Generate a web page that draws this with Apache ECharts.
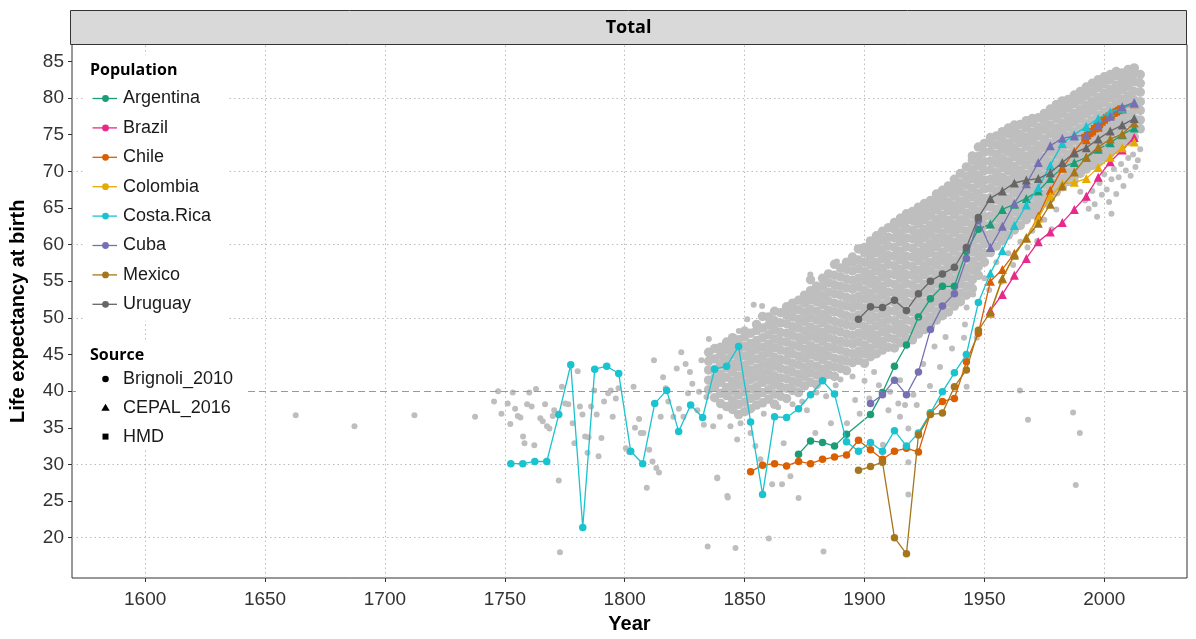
<!DOCTYPE html>
<html><head><meta charset="utf-8">
<script src="https://cdn.jsdelivr.net/npm/echarts@6/dist/echarts.min.js"></script>
<style>html,body{margin:0;padding:0;background:#fff}#c{width:1196px;height:639px}</style>
</head><body><div id="c"></div><script>
// ---------- DATA ----------
const countries = ['Argentina','Brazil','Chile','Colombia','Costa.Rica','Cuba','Mexico','Uruguay'];
const countryColors = ['#1B9E77','#E7298A','#D95F02','#E6AB02','#19C3CF','#7570B3','#A6761D','#666666'];
const sources = ['Brignoli_2010','CEPAL_2016','HMD'];
const xTicks = [1600,1650,1700,1750,1800,1850,1900,1950,2000];
const yTicks = [20,25,30,35,40,45,50,55,60,65,70,75,80,85];
const yGrid = [20,30,40,50,60,70,80];
const refLine = 40;

const cepalYears = [1952.5,1957.5,1962.5,1967.5,1972.5,1977.5,1982.5,1987.5,1992.5,1997.5,2002.5,2007.5,2012.5];

const argBrigYears = [1872.5,1877.5,1882.5,1887.5,1892.5,1902.5,1907.5,1912.5,1917.5,1922.5,1927.5,1932.5,1937.5,1942.5,1947.5];
const argBrig = [31.4,33.2,33.0,32.5,34.1,36.8,39.8,43.4,46.3,50.1,52.6,54.3,54.3,59.1,62.1];
const argCepal = [62.8,64.8,65.5,66.3,67.3,69.0,70.5,71.2,71.9,73.0,73.9,75.0,75.9];

const braCepal = [51.0,53.2,55.8,58.1,60.4,61.7,63.0,64.8,66.6,69.2,71.3,72.9,74.6];

const chiBrigYears = [1852.5,1857.5,1862.5,1867.5,1872.5,1877.5,1882.5,1887.5,1892.5,1897.5,1902.5,1907.5,1912.5,1917.5,1922.5,1927.5,1932.5,1937.5,1942.5,1947.5];
const chiBrig = [29.0,29.9,30.1,29.8,30.4,30.1,30.7,31.0,31.3,33.3,32.0,30.7,31.8,32.2,31.7,37.0,38.6,39.0,44.0,47.9];
const chiCepal = [55.0,56.6,58.8,60.9,63.9,67.4,70.4,72.7,74.3,76.0,77.6,78.5,79.2];
const chiHmdYears = [1992,1993,1994,1995,1996,1997,1998,1999,2000,2001,2002,2003,2004,2005,2006,2007];
const chiHmd = [74.6,74.9,75.2,75.4,75.8,76.1,76.4,76.7,77.0,77.3,77.5,77.7,77.9,78.1,78.3,78.5];

const colCepal = [50.6,55.3,58.5,61.0,63.6,66.6,68.3,68.5,69.0,70.5,71.9,73.2,74.0];

const crcBrigYears = [1752.5,1757.5,1762.5,1767.5,1772.5,1777.5,1782.5,1787.5,1792.5,1797.5,1802.5,1807.5,1812.5,1817.5,1822.5,1827.5,1832.5,1837.5,1842.5,1847.5,1852.5,1857.5,1862.5,1867.5,1872.5,1877.5,1882.5,1887.5,1892.5,1897.5,1902.5,1907.5,1912.5,1917.5,1922.5,1927.5,1932.5,1937.5,1942.5,1947.5];
const crcBrig = [30.1,30.1,30.4,30.4,36.8,43.6,21.4,43.0,43.4,42.4,31.8,30.1,38.3,40.1,34.5,38.1,36.4,43.0,43.4,46.1,35.8,25.9,36.5,36.4,37.6,39.5,41.4,39.6,33.1,31.8,33.0,31.8,34.6,32.5,34.3,37.0,39.9,42.5,45.0,52.1];
const crcCepal = [56.1,59.2,62.6,65.4,67.8,70.8,73.8,75.0,76.1,77.2,78.1,78.6,79.3];

const cubBrigYears = [1902.5,1907.5,1912.5,1917.5,1922.5,1927.5,1932.5,1937.5,1942.5,1947.5];
const cubBrig = [38.3,39.5,41.5,39.5,42.6,48.4,51.6,53.3,58.1,63.3];
const cubCepal = [59.6,62.5,65.6,68.3,71.2,73.5,74.5,74.8,74.9,76.3,77.5,78.8,79.4];

const mexBrigYears = [1897.5,1902.5,1907.5,1912.5,1917.5,1922.5,1927.5,1932.5,1937.5,1942.5,1947.5];
const mexBrig = [29.2,29.7,30.3,20.0,17.8,34.0,36.8,37.0,40.6,42.9,48.3];
const mexCepal = [50.8,55.4,58.6,60.9,62.9,65.5,68.0,69.9,71.9,73.3,74.4,75.1,76.6];

const uruBrigYears = [1897.5,1902.5,1907.5,1912.5,1917.5,1922.5,1927.5,1932.5,1937.5,1942.5,1947.5];
const uruBrig = [49.8,51.5,51.4,52.4,51.0,53.3,55.0,56.0,56.9,59.6,63.7];
const uruCepal = [66.3,67.3,68.4,68.8,69.0,69.8,71.2,72.5,73.2,74.4,75.5,76.3,77.2];

// background cloud (all other populations) - sparse points
const grayPoints = [
[1662.8,36.7],[1687.3,35.2],[1712.3,36.7],[1737.6,36.5],[1745.5,38.6],[1747.2,40.0],[1748.6,36.9],
[1751.2,38.3],[1752.3,35.5],[1753.3,39.8],[1754.3,37.6],[1755.4,36.6],[1756.5,36.4],[1757.6,33.8],[1758.2,32.9],[1759.3,38.2],[1760.2,39.8],[1761.2,37.9],[1762.3,32.6],[1763.0,40.3],[1764.8,36.3],[1765.8,35.9],[1766.8,38.2],[1767.6,35.2],[1768.6,34.9],[1770.0,36.6],[1770.6,37.4],[1772.5,27.8],[1773.8,40.6],[1775.2,38.3],[1776.5,38.2],[1778.3,35.6],[1779.0,32.9],[1780.4,42.7],[1781.3,37.9],[1782.4,36.8],[1783.5,33.8],[1784.5,31.6],[1784.9,33.7],[1786.0,37.9],[1787.3,40.1],[1788.3,36.8],[1789.1,31.1],[1790.3,33.6],[1791.4,38.6],[1793.1,39.7],[1794.2,40.1],[1795.0,36.5],[1796.3,39.0],[1797.4,40.4],[1800.5,32.2],[1801.8,31.7],[1803.7,40.6],[1804.3,35.0],[1806.0,36.2],[1806.7,34.3],[1807.8,34.3],[1809.2,26.8],[1810.2,32.0],[1811.6,30.4],[1812.2,44.2],[1813.2,29.5],[1814.3,28.9],[1815.0,36.5],[1816.0,41.9],[1817.1,40.4],[1818.2,38.6],[1820.3,36.5],[1821.7,43.1],[1822.6,37.6],[1823.6,45.3],[1824.5,36.5],[1825.4,43.7],[1826.4,39.7],[1827.2,42.6],[1828.2,41.0],[1830.3,37.4],[1831.0,39.9],[1832.0,44.2],[1833.0,35.4],[1834.1,39.2],[1835.1,47.1],[1835.8,45.3],[1836.9,35.2],[1838.6,28.2],[1839.7,36.5],[1840.7,44.0],[1843.0,25.5],[1844.1,35.2],[1844.8,37.9],[1846.9,33.4],[1847.6,48.2],[1848.3,35.6],
[1773.0,18.0],[1834.6,18.8],[1846.2,18.6],[1842.8,25.7],[1838.6,28.1],
[1852.5,34.3],[1854.5,32.5],[1856.6,30.7],[1860.1,19.9],[1861.5,27.3],[1865.6,27.3],[1866.3,32.9],[1869.1,28.4],[1872.5,25.4],[1876,37.4],[1879.5,34.3],[1882.9,18.1],[1886,35.6],[1892.7,35.6],[1896.1,38.8],
[1858,36.9],[1864,37.8],[1870,38.2],[1874,38.6],[1880,39.8],[1884,39.3],[1888,40.8],[1890,41.6],[1895,42.0],[1898,36.9],[1900,41.4],[1902,39.0],[1904,42.6],[1906,40.8],
[1851.1,49.8],[1853.8,51.8],[1857.3,51.6],[1858.7,50.3],[1870.5,50.9],[1877.4,55.9],[1888.5,57.7],[1896.8,59.5],
[1907.7,32.7],[1910,37.4],[1910.7,39.9],[1914.1,38.3],[1914.8,36.5],[1916.9,38.1],[1918.3,34.9],[1918.3,30.3],[1918.3,25.9],[1920.4,39.5],[1921.8,38.1],[1927.3,40.7],[1931.5,43.3],[1924.5,43.7],[1914.8,41.5],[1942.6,40.6],[1941.5,47.3],[1946.8,47.3],[1942.6,51.4],[1941.9,49.1],[1945.3,53.2],[1936.5,45.8],[1933.8,47.4],[1929.2,46.1],
[1950,55.4],[1952,53.8],[1955,57.6],[1957,54.9],[1960,58.8],[1962,57.2],[1965,60.4],[1968,59.6],[1970,61.9],[1972,60.5],[1975,63.4],[1978,62.1],[1980,64.8],
[1964.8,40.1],[1968.2,36.1],[1987.0,37.1],[1989.8,34.3],[1988.1,27.2],
[1990,67.2],[1988,68.6],[1992,66.0],[1993.5,64.9],[1995,67.3],[1996,65.5],[1997,63.8],[1998,68.4],[1999,66.8],[2000,69.6],[2001,67.5],[2002,65.8],[2003,68.9],[2003,64.2],[2004,70.3],[2005,66.9],[2006,69.2],[2007,71.0],[2008,68.0],[2009,70.1],[2010,71.8],[2011,69.4],[2012,72.3],[2013,70.6],[2014,71.5],[2015,73.0]
];
// background cloud - dense band, values per year
const cloudYears = [1835,1837.5,1840,1842.5,1845,1847.5,1850,1852.5,1855,1857.5,1860,1862.5,1865,1867.5,1870,1872.5,1875,1877.5,1880,1882.5,1885,1887.5,1890,1892.5,1895,1897.5,1900,1902.5,1905,1907.5,1910,1912.5,1915,1917.5,1920,1922.5,1925,1927.5,1930,1932.5,1935,1937.5,1940,1942.5,1945,1947.5,1950,1952.5,1955,1957.5,1960,1962.5,1965,1967.5,1970,1972.5,1975,1977.5,1980,1982.5,1985,1987.5,1990,1992.5,1995,1997.5,2000,2002.5,2005,2007.5,2010,2012.5,2015];
const cloudValues = [
[40.2,41.5,42.9,44.1,45.3],
[39.1,40.6,41.8,43.0,44.4,45.8],
[38.3,39.7,41.2,42.3,43.6,44.9,46.0],
[37.9,39.4,40.5,41.9,43.2,44.3,45.6,46.7],
[37.5,38.8,40.1,41.3,42.6,43.7,45.0,46.2,47.3],
[36.8,38.2,39.5,40.8,42.0,43.3,44.5,45.6,47.0],
[37.2,38.5,39.9,41.1,42.4,43.5,44.8,46.1,47.4,48.2],
[37.6,39.0,40.3,41.6,42.8,44.1,45.3,46.5,47.9],
[38.1,39.4,40.6,41.9,43.1,44.4,45.7,46.9,48.3,49.1],
[38.4,39.8,41.2,42.4,43.6,44.8,46.0,47.3,48.6,50.2],
[38.9,40.2,41.5,42.7,43.9,45.2,46.4,47.7,49.0,50.1],
[38.2,39.6,40.9,42.1,43.4,44.6,45.9,47.1,48.4,49.6,50.9],
[39.3,40.6,41.8,43.1,44.3,45.6,46.8,48.0,49.3,50.7],
[39.0,40.4,41.7,42.9,44.2,45.4,46.7,47.9,49.2,50.4,51.5],
[40.1,41.3,42.6,43.8,45.1,46.3,47.6,48.8,50.1,51.3,52.0],
[39.8,41.1,42.3,43.6,44.8,46.1,47.3,48.6,49.8,51.1,52.4],
[40.7,42.0,43.2,44.5,45.7,47.0,48.2,49.5,50.7,52.0,53.1],
[41.2,42.5,43.7,45.0,46.2,47.5,48.7,50.0,51.2,52.5,53.7,55.2],
[40.9,42.2,43.4,44.7,45.9,47.2,48.4,49.7,50.9,52.2,53.4,54.3],
[41.8,43.0,44.3,45.5,46.8,48.0,49.3,50.5,51.8,53.0,54.3,55.4],
[42.3,43.5,44.8,46.0,47.3,48.5,49.8,51.0,52.3,53.5,54.8,56.0],
[42.0,43.3,44.5,45.8,47.0,48.3,49.5,50.8,52.0,53.3,54.5,55.8,57.3],
[43.1,44.3,45.6,46.8,48.1,49.3,50.6,51.8,53.1,54.3,55.6,56.8],
[42.8,44.1,45.3,46.6,47.8,49.1,50.3,51.6,52.8,54.1,55.3,56.6,57.6],
[43.9,45.1,46.4,47.6,48.9,50.1,51.4,52.6,53.9,55.1,56.4,57.6,58.3],
[44.2,45.4,46.7,47.9,49.2,50.4,51.7,52.9,54.2,55.4,56.7,57.9,59.4],
[43.8,45.1,46.3,47.6,48.8,50.1,51.3,52.6,53.8,55.1,56.3,57.6,58.9,59.6],
[44.7,45.9,47.2,48.4,49.7,50.9,52.2,53.4,54.7,55.9,57.2,58.4,59.6,60.5],
[45.1,46.4,47.6,48.9,50.1,51.4,52.6,53.9,55.1,56.4,57.6,58.9,60.1,61.2],
[45.6,46.8,48.1,49.3,50.6,51.8,53.1,54.3,55.6,56.8,58.1,59.3,60.6,61.8],
[46.0,47.3,48.5,49.8,51.0,52.3,53.5,54.8,56.0,57.3,58.5,59.8,61.0,62.3],
[45.9,47.1,48.4,49.6,50.9,52.1,53.4,54.6,55.9,57.1,58.4,59.6,60.9,62.1,63.0],
[46.6,47.9,49.1,50.4,51.6,52.9,54.1,55.4,56.6,57.9,59.1,60.4,61.6,62.9,63.6],
[47.2,48.4,49.7,50.9,52.2,53.4,54.7,55.9,57.2,58.4,59.7,60.9,62.2,63.4,64.2],
[47.0,48.3,49.5,50.8,52.0,53.3,54.5,55.8,57.0,58.3,59.5,60.8,62.0,63.3,64.5],
[47.8,49.0,50.3,51.5,52.8,54.0,55.3,56.5,57.8,59.0,60.3,61.5,62.8,64.0,65.1],
[48.4,49.6,50.9,52.1,53.4,54.6,55.9,57.1,58.4,59.6,60.9,62.1,63.4,64.6,65.6],
[48.9,50.1,51.4,52.6,53.9,55.1,56.4,57.6,58.9,60.1,61.4,62.6,63.9,65.1,66.0],
[49.7,50.9,52.2,53.4,54.7,55.9,57.2,58.4,59.7,60.9,62.2,63.4,64.7,65.9,66.9],
[50.3,51.5,52.8,54.0,55.3,56.5,57.8,59.0,60.3,61.5,62.8,64.0,65.3,66.5,67.4],
[50.8,52.1,53.3,54.6,55.8,57.1,58.3,59.6,60.8,62.1,63.3,64.6,65.8,67.1,68.0],
[51.6,52.8,54.1,55.3,56.6,57.8,59.1,60.3,61.6,62.8,64.1,65.3,66.6,67.8,68.9],
[52.2,53.4,54.7,55.9,57.2,58.4,59.7,60.9,62.2,63.4,64.7,65.9,67.2,68.4,69.7],
[53.1,54.3,55.6,56.8,58.1,59.3,60.6,61.8,63.1,64.3,65.6,66.8,68.1,69.3,70.6],
[54.0,55.2,56.5,57.7,59.0,60.2,61.5,62.7,64.0,65.2,66.5,67.7,69.0,70.2,71.5,72.1],
[55.8,57.0,58.3,59.5,60.8,62.0,63.3,64.5,65.8,67.0,68.3,69.5,70.8,72.0,73.3],
[57.6,58.8,60.1,61.3,62.6,63.8,65.1,66.3,67.6,68.8,70.1,71.3,72.6,73.8],
[58.9,60.2,61.4,62.7,63.9,65.2,66.4,67.7,68.9,70.2,71.4,72.7,73.9,74.6],
[59.8,61.1,62.3,63.6,64.8,66.1,67.3,68.6,69.8,71.1,72.3,73.6,74.8],
[60.5,61.7,63.0,64.2,65.5,66.7,68.0,69.2,70.5,71.7,73.0,74.2,75.4],
[61.3,62.6,63.8,65.1,66.3,67.6,68.8,70.1,71.3,72.6,73.8,75.1,75.9],
[62.0,63.2,64.5,65.7,67.0,68.2,69.5,70.7,72.0,73.2,74.5,75.7,76.3],
[62.6,63.9,65.1,66.4,67.6,68.9,70.1,71.4,72.6,73.9,75.1,76.4],
[63.4,64.6,65.9,67.1,68.4,69.6,70.9,72.1,73.4,74.6,75.9,76.9],
[64.1,65.3,66.6,67.8,69.1,70.3,71.6,72.8,74.1,75.3,76.6,77.2],
[64.8,66.0,67.3,68.5,69.8,71.0,72.3,73.5,74.8,76.0,77.3],
[65.7,66.9,68.2,69.4,70.7,71.9,73.2,74.4,75.7,76.9,77.9],
[66.3,67.6,68.8,70.1,71.3,72.6,73.8,75.1,76.3,77.6,78.5],
[67.2,68.4,69.7,70.9,72.2,73.4,74.7,75.9,77.2,78.4,79.1],
[67.9,69.1,70.4,71.6,72.9,74.1,75.4,76.6,77.9,79.1,79.6],
[68.6,69.8,71.1,72.3,73.6,74.8,76.1,77.3,78.6,79.8],
[69.2,70.4,71.7,72.9,74.2,75.4,76.7,77.9,79.2,80.4],
[69.7,70.9,72.2,73.4,74.7,75.9,77.2,78.4,79.7,80.9],
[70.3,71.5,72.8,74.0,75.3,76.5,77.8,79.0,80.3,81.5],
[70.8,72.0,73.3,74.5,75.8,77.0,78.3,79.5,80.8,82.0],
[71.4,72.6,73.9,75.1,76.4,77.6,78.9,80.1,81.4,82.5],
[71.9,73.1,74.4,75.6,76.9,78.1,79.4,80.6,81.9,82.9],
[72.5,73.7,75.0,76.2,77.5,78.7,80.0,81.2,82.5,83.2],
[73.0,74.2,75.5,76.7,78.0,79.2,80.5,81.7,83.0,83.6],
[73.6,74.8,76.1,77.3,78.6,79.8,81.1,82.3,83.4],
[74.1,75.3,76.6,77.8,79.1,80.3,81.6,82.8,83.9],
[74.7,75.9,77.2,78.4,79.7,80.9,82.2,83.4,84.1],
[75.8,77.0,78.3,79.5,80.8,82.0,83.2]
];

// ---------- BUILD ----------
const symbolOf = {Brignoli_2010:'circle', CEPAL_2016:'triangle', HMD:'rect'};
const sizeOf = {Brignoli_2010:7.5, CEPAL_2016:9, HMD:7.5};
function pts(years, vals, src){ return years.map((y,i)=>({value:[y, vals[i]], symbol:symbolOf[src], symbolSize:sizeOf[src]})); }
const countryData = {
  'Argentina': [...pts(argBrigYears,argBrig,'Brignoli_2010'), ...pts(cepalYears,argCepal,'CEPAL_2016')],
  'Brazil': [...pts(cepalYears,braCepal,'CEPAL_2016')],
  'Chile': [...pts(chiBrigYears,chiBrig,'Brignoli_2010'), ...pts(cepalYears,chiCepal,'CEPAL_2016'), ...pts(chiHmdYears,chiHmd,'HMD')],
  'Colombia': [...pts(cepalYears,colCepal,'CEPAL_2016')],
  'Costa.Rica': [...pts(crcBrigYears,crcBrig,'Brignoli_2010'), ...pts(cepalYears,crcCepal,'CEPAL_2016')],
  'Cuba': [...pts(cubBrigYears,cubBrig,'Brignoli_2010'), ...pts(cepalYears,cubCepal,'CEPAL_2016')],
  'Mexico': [...pts(mexBrigYears,mexBrig,'Brignoli_2010'), ...pts(cepalYears,mexCepal,'CEPAL_2016')],
  'Uruguay': [...pts(uruBrigYears,uruBrig,'Brignoli_2010'), ...pts(cepalYears,uruCepal,'CEPAL_2016')]
};
Object.values(countryData).forEach(a=>a.sort((p,q)=>p.value[0]-q.value[0]));

const cloudData = [];
cloudYears.forEach((y,i)=>cloudValues[i].forEach(v=>cloudData.push([y,v])));

const series = [
  { type:'scatter', z:1, silent:true, data:[[1600,50]], symbolSize:0, itemStyle:{opacity:0},
    markLine:{ silent:true, symbol:'none', animation:false, label:{show:false},
      lineStyle:{color:'#BDBDBD', type:[1.5,3], width:1},
      data:[...xTicks.map(v=>({xAxis:v})), ...yGrid.filter(v=>v!==refLine).map(v=>({yAxis:v}))] } },
  { type:'scatter', z:2, silent:true, data:cloudData, symbol:'circle', symbolSize:9.5,
    itemStyle:{color:'#BEBEBE', opacity:1}, progressive:0 },
  { type:'scatter', z:2, silent:true, data:grayPoints, symbol:'circle', symbolSize:6,
    itemStyle:{color:'#BEBEBE', opacity:1}, progressive:0 },
  { type:'scatter', z:3, silent:true, data:[[1600,refLine]], symbolSize:0, itemStyle:{opacity:0},
    markLine:{ silent:true, symbol:'none', animation:false, label:{show:false},
      lineStyle:{color:'#9A9A9A', type:[7,4], width:1.2}, data:[{yAxis:refLine}] } }
];
countries.forEach((c,i)=>{
  series.push({ type:'line', name:c, z:4+i, data:countryData[c], color:countryColors[i],
    lineStyle:{width:1.3, color:countryColors[i]}, itemStyle:{color:countryColors[i], opacity:1},
    showSymbol:true, silent:true, animation:false });
});

// ---------- LEGEND (graphic) ----------
const FONT = '"Liberation Sans", Arial, sans-serif';
const graphics = [
  {type:'rect', z:100, shape:{x:70.5,y:10.5,width:1116,height:34}, style:{fill:'#D9D9D9', stroke:'#333', lineWidth:1}},
  {type:'text', z:101, x:628.5, y:28, style:{text:'Total', font:'bold 18px "Open Sans", sans-serif', fill:'#000', textAlign:'center', textVerticalAlign:'middle', align:'center', verticalAlign:'middle'}},
  {type:'rect', z:100, shape:{x:83,y:55,width:146,height:266}, style:{fill:'#fff'}},
  {type:'rect', z:100, shape:{x:76,y:340,width:170,height:110}, style:{fill:'#fff'}},
  {type:'text', z:101, x:90, y:70, style:{text:'Population', font:'bold 16px "Open Sans", sans-serif', fill:'#000', textVerticalAlign:'middle', verticalAlign:'middle'}},
  {type:'text', z:101, x:90, y:355.5, style:{text:'Source', font:'bold 16px "Open Sans", sans-serif', fill:'#000', textVerticalAlign:'middle', verticalAlign:'middle'}}
];
countries.forEach((c,i)=>{
  const y = 98.5 + i*29.4;
  graphics.push({type:'line', z:101, shape:{x1:92.5,y1:y,x2:117,y2:y}, style:{stroke:countryColors[i], lineWidth:1.3}});
  graphics.push({type:'circle', z:102, shape:{cx:105.5,cy:y,r:3.4}, style:{fill:countryColors[i]}});
  graphics.push({type:'text', z:101, x:123, y:y, style:{text:c, font:'18px '+FONT, fill:'#1a1a1a', textVerticalAlign:'middle', verticalAlign:'middle'}});
});
sources.forEach((s,i)=>{
  const y = 379 + i*28.8;
  if (s==='Brignoli_2010') graphics.push({type:'circle', z:101, shape:{cx:105.5,cy:y,r:3.3}, style:{fill:'#000'}});
  else if (s==='CEPAL_2016') graphics.push({type:'polygon', z:101, shape:{points:[[105.5,y-4],[101.3,y+3],[109.7,y+3]]}, style:{fill:'#000'}});
  else graphics.push({type:'rect', z:101, shape:{x:102.5,y:y-3,width:6,height:6}, style:{fill:'#000'}});
  graphics.push({type:'text', z:101, x:123, y:y, style:{text:s, font:'18px '+FONT, fill:'#1a1a1a', textVerticalAlign:'middle', verticalAlign:'middle'}});
});

// ---------- CHART ----------
const chart = echarts.init(document.getElementById('c'), null, {renderer:'canvas'});
chart.setOption({
  animation:false,
  backgroundColor:'#fff',
  grid:{left:70.5, right:9, top:44.5, bottom:56, show:true, borderColor:'#333', borderWidth:1, backgroundColor:'#fff'},
  xAxis:{ type:'value', min:1569.5, max:2034.5,
    name:'Year', nameLocation:'middle', nameGap:36,
    nameTextStyle:{fontFamily:FONT, fontWeight:'bold', fontSize:20, color:'#000'},
    axisLine:{show:false},
    axisTick:{show:true, length:4, customValues:xTicks, lineStyle:{color:'#333'}},
    axisLabel:{customValues:xTicks, formatter:v=>String(v), fontFamily:FONT, fontSize:19, color:'#333', margin:12},
    splitLine:{show:false} },
  yAxis:{ type:'value', min:14.5, max:87.3,
    name:'Life expectancy at birth', nameLocation:'middle', nameGap:44,
    nameTextStyle:{fontFamily:FONT, fontWeight:'bold', fontSize:20, color:'#000'},
    axisLine:{show:false},
    axisTick:{show:true, length:4, customValues:yTicks, lineStyle:{color:'#333'}},
    axisLabel:{customValues:yTicks, formatter:v=>String(v), fontFamily:FONT, fontSize:19, color:'#333', margin:8},
    splitLine:{show:false} },
  series: series,
  graphic: graphics
});
</script></body></html>
